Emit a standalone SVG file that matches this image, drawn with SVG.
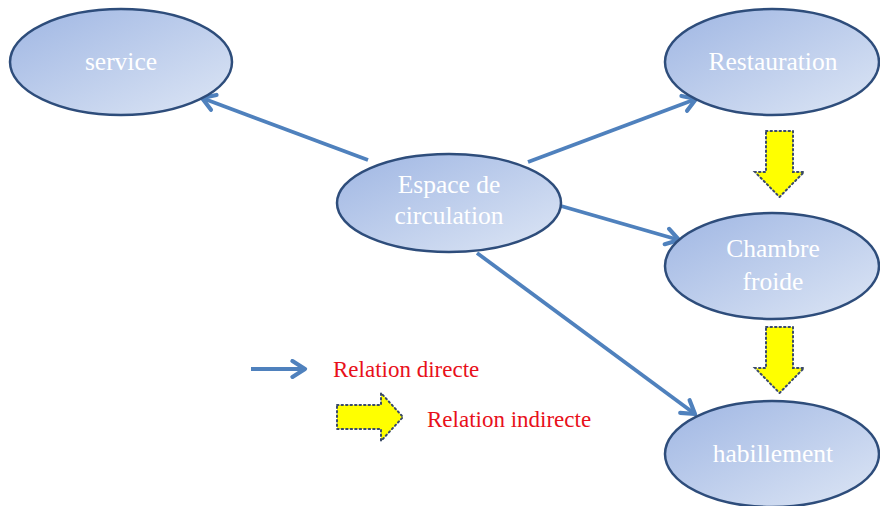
<svg xmlns="http://www.w3.org/2000/svg" width="880" height="506" viewBox="0 0 880 506">
<defs>
<linearGradient id="g" x1="0" y1="0" x2="1" y2="1">
<stop offset="0" stop-color="#9fb6e3"/>
<stop offset="1" stop-color="#dde6f5"/>
</linearGradient>
<marker id="ah" viewBox="0 0 10 10" refX="8" refY="5" markerWidth="5.5" markerHeight="5.5" orient="auto" markerUnits="strokeWidth">
<path d="M2,1.2 L8,5 L2,8.8" fill="none" stroke="#4f81bd" stroke-width="2" stroke-linecap="round" stroke-linejoin="round"/>
</marker>
<path id="yarrow" d="M0,0 H27 V41 H38 L13.5,66 L-11,41 H0 Z"/>
</defs>
<style>
.node ellipse{fill:url(#g);stroke:#2e4d7b;stroke-width:2.5}
.node text{fill:#ffffff;font-family:"Liberation Serif",serif;font-size:25.5px;text-anchor:middle}
.conn line{stroke:#4f81bd;stroke-width:3.8;marker-end:url(#ah)}
.ya{fill:#ffff00;stroke:#3a4a6a;stroke-width:2;stroke-dasharray:1.5 3;stroke-linecap:round}
.leg{fill:#e8101a;font-family:"Liberation Serif",serif;font-size:23px}
</style>
<rect width="880" height="506" fill="#ffffff"/>
<g id="connectors" class="conn">
<line x1="368" y1="160" x2="202" y2="98"/>
<line x1="528" y1="162" x2="696" y2="99"/>
<line x1="561" y1="206" x2="679" y2="240"/>
<line x1="477" y1="253" x2="695" y2="414"/>
</g>
<g id="service" class="node"><ellipse cx="121" cy="62" rx="111" ry="53"/><text x="121" y="70">service</text></g>
<g id="restauration" class="node"><ellipse cx="772" cy="62" rx="107" ry="53"/><text x="773" y="70">Restauration</text></g>
<g id="espace" class="node"><ellipse cx="449" cy="203" rx="112" ry="49"/><text x="449" y="193">Espace de</text><text x="449" y="224">circulation</text></g>
<g id="chambre" class="node"><ellipse cx="772" cy="266" rx="107" ry="53"/><text x="773" y="257">Chambre</text><text x="773" y="290">froide</text></g>
<g id="habillement" class="node"><ellipse cx="772" cy="454" rx="107" ry="53"/><text x="773" y="462">habillement</text></g>
<g id="indirect-arrows">
<use href="#yarrow" class="ya" transform="translate(766,131)"/>
<use href="#yarrow" class="ya" transform="translate(766,327)"/>
</g>
<g id="legend">
<line x1="251" y1="369" x2="305" y2="369" stroke="#4f81bd" stroke-width="3.8" marker-end="url(#ah)"/>
<text class="leg" x="333" y="377">Relation directe</text>
<path class="ya" d="M337,405 H381 V393 L403,417 L381,441 V429 H337 Z"/>
<text class="leg" x="427" y="427">Relation indirecte</text>
</g>
</svg>
